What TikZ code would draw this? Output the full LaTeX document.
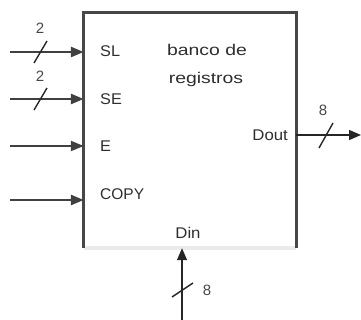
\documentclass[tikz,border=0pt]{standalone}
\usepackage{fontspec}
\setmainfont{Liberation Sans}
\usetikzlibrary{arrows.meta}
\begin{document}
\begin{tikzpicture}[x=1pt,y=-1pt,
  sig/.style={draw=black!75, line width=2.6pt, -{Triangle[length=13pt,width=10pt]}},
  thin sig/.style={draw=black!85, line width=1.5pt, -{Triangle[length=12pt,width=10pt]}},
  edge line/.style={draw=black!72, line width=3pt},
  slash/.style={draw=black!85, line width=1.4pt},
  lbl/.style={font=\fontsize{15.5}{17}\selectfont, text=black!82, inner sep=0pt},
  num/.style={font=\fontsize{15}{17}\selectfont, text=black!72, inner sep=0pt},
]
\useasboundingbox (0,0) rectangle (361,320);
% the register bank box
\node[minimum width=212pt, minimum height=235pt, inner sep=0pt] (box) at (190,130.5) {};
\draw[black!8, line width=4pt] (box.south west) -- (box.south east);
\draw[edge line] (box.south west) -- (box.north west) -- (box.north east) -- (box.south east);

% inputs
\coordinate (inSL) at (10,52);
\coordinate (inSE) at (10,99);
\coordinate (inE) at (10,146);
\coordinate (inCOPY) at (10,200);
\draw[sig] (inSL) -- (box.west |- inSL);
\draw[sig] (inSE) -- (box.west |- inSE);
\draw[sig, line width=2pt] (inE) -- (box.west |- inE);
\draw[sig] (inCOPY) -- (box.west |- inCOPY);

\draw[slash] (34,63) -- (47,41);
\draw[slash] (34,110) -- (47,88);
\node[num] (nSL) at (40,28) {2};
\node[num] (nSE) at (40,76) {2};

% output
\coordinate (outD) at (361,135);
\draw[thin sig] (box.east |- outD) -- (outD);
\draw[slash] (319,148) -- (333,123);
\node[num] (nOut) at (323,110) {8};

% data in
\coordinate (inDin) at (182,320);
\draw[thin sig] (inDin) -- (inDin |- box.south);
\draw[slash] (172,297) -- (193,283);
\node[num] (nIn) at (207,290) {8};

% labels
\node[lbl, anchor=west] (tSL) at (100,51) {\scalebox{1.05}[1]{SL}};
\node[lbl, anchor=west] (tSE) at (100,99) {\scalebox{1.05}[1]{SE}};
\node[lbl, anchor=west] (tE) at (100,146) {\scalebox{1.05}[1]{E}};
\node[lbl, anchor=west] (tCOPY) at (100,194) {\scalebox{1.0}[1]{COPY}};
\node[lbl, anchor=base] (tb1) at (207,56) {\scalebox{1.25}[1]{banco de}};
\node[lbl, anchor=base] (tb2) at (206,84) {\scalebox{1.25}[1]{registros}};
\node[lbl, anchor=east] (tDout) at (288,135) {\scalebox{1.08}[1]{Dout}};
\node[lbl] (tDin) at (188,233) {\scalebox{1.08}[1]{Din}};
\end{tikzpicture}
\end{document}
